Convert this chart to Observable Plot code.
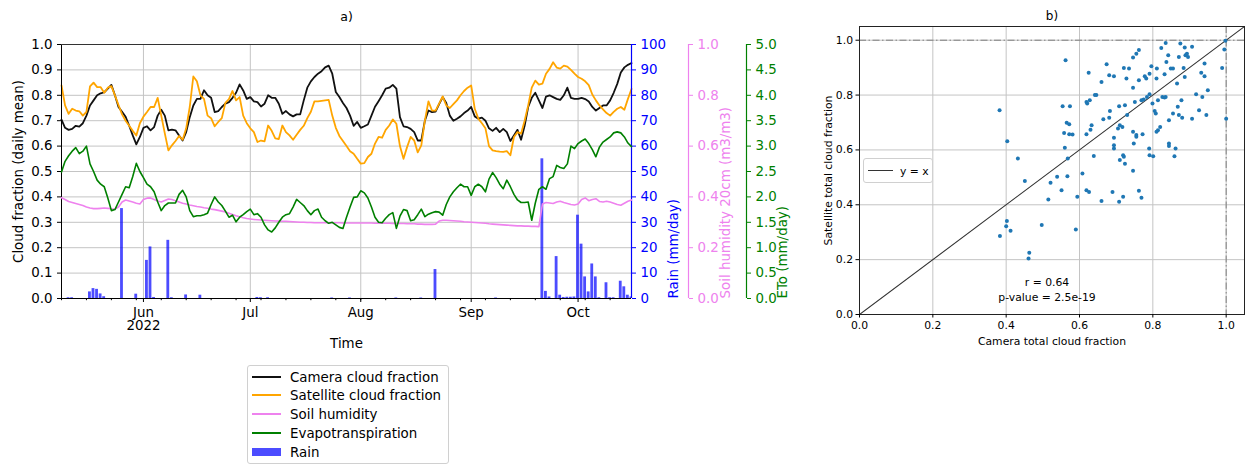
<!DOCTYPE html>
<html>
<head>
<meta charset="utf-8">
<script src="https://cdn.jsdelivr.net/npm/d3@7"></script>
<script src="https://cdn.jsdelivr.net/npm/@observablehq/plot@0.6"></script>
<style>
  html, body { margin: 0; padding: 0; background: #fff; }
  #wrap { position: relative; width: 1252px; height: 464px; overflow: hidden; font-family: "DejaVu Sans", sans-serif; }
  #wrap svg.layer { position: absolute; top: 0; overflow: visible; background: transparent; }
  .legend { position: absolute; border: 1px solid #d0d0d0; border-radius: 3px; background: rgba(255,255,255,0.8); }
  .legend .sw { position: absolute; }
  .legend .lab { position: absolute; white-space: nowrap; transform: translateY(-50%); color: #000; }
</style>
</head>
<body>
<div id="wrap"></div>
<script>
// ---------------------------------------------------------------- data
// Daily series, one value per day starting on firstDay.
const firstDay = "2022-05-09";

const cameraCloud = [
  0.704,0.672,0.664,0.668,0.680,0.677,0.690,0.720,0.760,0.780,
  0.800,0.808,0.812,0.826,0.841,0.800,0.754,0.735,0.715,0.680,
  0.642,0.607,0.636,0.672,0.678,0.662,0.675,0.720,0.743,0.720,
  0.662,0.665,0.662,0.642,0.622,0.655,0.714,0.760,0.786,0.786,
  0.820,0.800,0.790,0.734,0.738,0.754,0.767,0.773,0.790,0.810,
  0.843,0.819,0.786,0.793,0.776,0.773,0.756,0.767,0.800,0.790,
  0.790,0.767,0.727,0.738,0.725,0.717,0.725,0.725,0.780,0.830,
  0.855,0.872,0.885,0.895,0.910,0.917,0.885,0.813,0.793,0.770,
  0.750,0.720,0.680,0.695,0.672,0.678,0.685,0.720,0.755,0.777,
  0.800,0.826,0.830,0.841,0.826,0.714,0.678,0.675,0.668,0.655,
  0.622,0.622,0.700,0.740,0.734,0.736,0.765,0.793,0.770,0.720,
  0.700,0.708,0.717,0.730,0.740,0.754,0.717,0.708,0.712,0.700,
  0.670,0.660,0.672,0.655,0.668,0.655,0.620,0.642,0.664,0.625,
  0.680,0.754,0.790,0.810,0.780,0.750,0.795,0.800,0.793,0.786,
  0.782,0.800,0.830,0.790,0.786,0.786,0.790,0.785,0.776,0.754,
  0.740,0.750,0.760,0.760,0.780,0.810,0.845,0.890,0.910,0.920,
  0.927
];

const satelliteCloud = [
  0.839,0.760,0.727,0.747,0.740,0.737,0.720,0.735,0.835,0.850,
  0.832,0.832,0.810,0.830,0.836,0.800,0.762,0.725,0.700,0.680,
  0.660,0.642,0.690,0.716,0.734,0.754,0.754,0.790,0.720,0.650,
  0.583,0.603,0.620,0.640,0.625,0.670,0.754,0.874,0.855,0.800,
  0.786,0.720,0.710,0.678,0.695,0.710,0.770,0.785,0.817,0.780,
  0.793,0.720,0.690,0.670,0.655,0.616,0.622,0.619,0.681,0.660,
  0.630,0.628,0.681,0.655,0.642,0.625,0.645,0.664,0.680,0.710,
  0.735,0.776,0.776,0.778,0.780,0.782,0.720,0.672,0.640,0.620,
  0.600,0.580,0.570,0.550,0.531,0.533,0.557,0.570,0.610,0.636,
  0.633,0.664,0.681,0.705,0.688,0.600,0.550,0.596,0.636,0.622,
  0.575,0.603,0.700,0.776,0.740,0.740,0.767,0.796,0.760,0.750,
  0.765,0.780,0.800,0.817,0.830,0.839,0.747,0.708,0.690,0.670,
  0.600,0.583,0.580,0.578,0.577,0.580,0.564,0.636,0.655,0.649,
  0.700,0.760,0.830,0.858,0.842,0.846,0.885,0.904,0.930,0.909,
  0.905,0.917,0.913,0.900,0.885,0.872,0.865,0.855,0.840,0.803,
  0.780,0.760,0.745,0.730,0.720,0.735,0.747,0.754,0.743,0.786,
  0.825
];

// soil humidity at 20 cm, m3/m3
const soilHumidity = [
  0.397,0.390,0.382,0.378,0.374,0.370,0.366,0.360,0.356,0.354,
  0.354,0.355,0.356,0.355,0.353,0.352,0.360,0.380,0.388,0.384,
  0.380,0.375,0.372,0.390,0.395,0.396,0.390,0.384,0.380,0.386,
  0.392,0.390,0.385,0.380,0.375,0.372,0.368,0.365,0.362,0.360,
  0.357,0.355,0.352,0.350,0.347,0.344,0.341,0.336,0.331,0.326,
  0.322,0.318,0.315,0.313,0.311,0.310,0.309,0.308,0.307,0.306,
  0.305,0.305,0.304,0.304,0.303,0.302,0.301,0.300,0.300,0.299,
  0.299,0.298,0.298,0.298,0.298,0.298,0.298,0.298,0.298,0.297,
  0.297,0.297,0.297,0.297,0.297,0.297,0.297,0.297,0.296,0.296,
  0.296,0.296,0.296,0.295,0.295,0.295,0.295,0.294,0.294,0.294,
  0.293,0.293,0.292,0.292,0.292,0.293,0.305,0.308,0.308,0.307,
  0.306,0.305,0.304,0.302,0.301,0.300,0.299,0.298,0.297,0.296,
  0.294,0.293,0.292,0.291,0.290,0.289,0.288,0.287,0.286,0.286,
  0.285,0.285,0.284,0.284,0.283,0.372,0.378,0.376,0.374,0.380,
  0.383,0.378,0.374,0.370,0.368,0.372,0.390,0.396,0.385,0.390,
  0.393,0.382,0.380,0.383,0.380,0.375,0.370,0.367,0.375,0.383,
  0.388
];

// reference evapotranspiration ETo, mm/day
const evapotranspiration = [
  2.49,2.70,2.81,2.90,2.97,2.85,2.90,3.00,2.65,2.50,
  2.33,2.25,2.20,1.98,1.73,1.75,1.90,2.05,2.20,2.18,
  2.40,2.66,2.50,2.38,2.25,2.20,2.10,1.90,1.73,1.83,
  1.88,1.88,1.88,2.05,2.13,2.00,1.73,1.61,1.63,1.63,
  1.65,1.68,1.85,2.00,1.90,1.83,1.72,1.60,1.64,1.51,
  1.60,1.65,1.71,1.76,1.65,1.67,1.60,1.45,1.35,1.31,
  1.39,1.50,1.60,1.65,1.67,1.80,1.95,1.89,1.83,1.73,
  1.65,1.73,1.76,1.60,1.53,1.48,1.50,1.45,1.40,1.38,
  1.60,1.80,1.99,2.00,2.12,2.08,1.98,1.80,1.60,1.50,
  1.49,1.58,1.65,1.69,1.38,1.62,1.75,1.73,1.53,1.55,
  1.65,1.76,1.61,1.66,1.69,1.71,1.70,1.64,1.85,2.00,
  2.10,2.18,2.25,2.20,2.20,2.03,2.20,2.25,2.20,2.10,
  2.35,2.48,2.38,2.25,2.16,2.33,2.20,2.05,1.94,1.89,
  1.89,1.90,1.54,1.88,2.15,2.20,2.15,2.36,2.40,2.62,
  2.58,2.56,2.65,3.00,2.95,3.05,3.10,3.14,3.05,2.93,
  2.79,2.98,3.08,3.13,3.18,3.26,3.28,3.26,3.18,3.06,
  2.99
];

// daily rain, mm/day (days without rain are omitted)
const rainDates = [
  "2022-05-11","2022-05-12","2022-05-17","2022-05-18","2022-05-19","2022-05-20","2022-05-21",
  "2022-05-26","2022-05-30","2022-06-02","2022-06-03","2022-06-04","2022-06-08","2022-06-09",
  "2022-06-13","2022-06-17","2022-07-03","2022-07-04","2022-07-06","2022-07-24","2022-07-29",
  "2022-08-11","2022-08-18","2022-08-22","2022-09-08","2022-09-21","2022-09-22","2022-09-23",
  "2022-09-25","2022-09-26","2022-09-27","2022-09-28","2022-09-29","2022-09-30","2022-10-01",
  "2022-10-02","2022-10-03","2022-10-04","2022-10-05","2022-10-06","2022-10-07","2022-10-09",
  "2022-10-10","2022-10-11","2022-10-13","2022-10-14","2022-10-15","2022-10-16"
];
const rainMM = [
  0.3,0.3,2.6,3.9,3.6,1.8,0.7,
  35.4,1.7,15.0,20.3,0.4,22.9,0.3,
  1.4,1.3,0.4,0.3,0.3,0.2,0.2,
  0.2,0.2,11.4,0.2,55.0,2.8,0.6,
  16.5,1.3,0.4,0.5,0.5,0.6,32.8,
  21.4,8.5,2.6,13.6,8.5,0.3,6.2,
  0.3,0.3,6.8,4.6,1.3,0.6
];

// axis ticks
const monthTicks = ["2022-06-01","2022-07-01","2022-08-01","2022-09-01","2022-10-01"];
const monthLabels = ["Jun\n2022","Jul","Aug","Sep","Oct"];
const cloudTicks = [0,0.1,0.2,0.3,0.4,0.5,0.6,0.7,0.8,0.9,1.0];
const rainTicks = [0,10,20,30,40,50,60,70,80,90,100];
const soilTicks = [0,0.2,0.4,0.6,0.8,1.0];
const etoTicks = [0,0.5,1.0,1.5,2.0,2.5,3.0,3.5,4.0,4.5,5.0];

// paired total cloud fraction: camera (x) vs satellite (y)
const cameraTotal = [
  0.382,0.403,0.432,0.562,0.554,0.574,0.558,0.572,0.581,0.565,
  0.572,0.560,0.568,0.625,0.619,0.621,0.628,0.642,0.646,0.633,
  0.630,0.619,0.639,0.660,0.665,0.674,0.681,0.681,0.683,0.694,
  0.694,0.694,0.694,0.708,0.705,0.710,0.717,0.710,0.719,0.721,
  0.724,0.721,0.724,0.728,0.735,0.730,0.746,0.746,0.746,0.748,
  0.751,0.755,0.762,0.762,0.755,0.755,0.772,0.769,0.775,0.778,
  0.782,0.784,0.790,0.791,0.796,0.791,0.791,0.799,0.801,0.805,
  0.808,0.810,0.811,0.814,0.814,0.810,0.820,0.823,0.826,0.832,
  0.835,0.835,0.832,0.837,0.842,0.844,0.844,0.844,0.849,0.855,
  0.855,0.859,0.862,0.866,0.868,0.871,0.875,0.878,0.871,0.880,
  0.884,0.887,0.887,0.889,0.893,0.896,0.907,0.907,0.918,0.926,
  0.932,0.935,0.941,0.941,0.946,0.950,0.989,0.995,0.998,1.000,
  0.383,0.402,0.400,0.412,0.451,0.461,0.463,0.497,0.515,0.521,
  0.539,0.551,0.567,0.590,0.594,0.608,0.619,0.626,0.660,0.690,
  0.708,0.719,0.746,0.762,0.769
];
const satelliteTotal = [
  0.745,0.632,0.569,0.927,0.759,0.759,0.662,0.657,0.656,0.699,
  0.694,0.608,0.569,0.881,0.775,0.769,0.781,0.800,0.800,0.690,
  0.674,0.657,0.578,0.848,0.712,0.912,0.872,0.717,0.742,0.869,
  0.644,0.617,0.605,0.759,0.678,0.690,0.684,0.563,0.581,0.575,
  0.550,0.899,0.763,0.860,0.897,0.727,0.937,0.827,0.666,0.623,
  0.775,0.951,0.964,0.854,0.654,0.648,0.657,0.781,0.784,0.869,
  0.860,0.793,0.605,0.581,0.905,0.878,0.803,0.769,0.577,0.742,
  0.733,0.860,0.897,0.781,0.672,0.666,0.684,0.972,0.793,0.791,
  0.793,0.990,0.876,0.921,0.945,0.623,0.614,0.708,0.897,0.897,
  0.733,0.577,0.605,0.842,0.757,0.727,0.988,0.781,0.939,0.717,
  0.899,0.973,0.866,0.945,0.951,0.939,0.976,0.714,0.803,0.745,
  0.881,0.793,0.869,0.915,0.727,0.818,0.899,0.966,0.998,0.714,
  0.286,0.341,0.322,0.305,0.487,0.204,0.225,0.326,0.419,0.480,
  0.502,0.453,0.504,0.310,0.429,0.514,0.453,0.447,0.414,0.447,
  0.411,0.429,0.524,0.451,0.426
];
const scatterTicks = [0,0.2,0.4,0.6,0.8,1.0];
const corrR = "0.64";
const pValue = "2.5e-19";

// ---------------------------------------------------------------- setup
const FONT = "'DejaVu Sans', sans-serif";
const C = {
  camera: "#111111", satellite: "#ffa500", soil: "#ee82ee", eto: "#008000",
  rain: "#0000ff", grid: "#c4c4c4", dots: "#1f77b4"
};
const wrap = document.getElementById("wrap");

const start = new Date(firstDay);
const days = cameraCloud.map((_, i) => d3.utcDay.offset(start, i));
const daily = days.map((date, i) => ({
  date,
  camera: cameraCloud[i],
  satellite: satelliteCloud[i],
  soil: soilHumidity[i],
  eto: evapotranspiration[i]
}));
const rain = rainDates.map((s, i) => ({date: new Date(s), mm: rainMM[i]}));
const months = monthTicks.map(s => new Date(s));
const xDomain = [days[0], days[days.length - 1]];
const weeks = d3.utcMonday.range(xDomain[0], d3.utcDay.offset(xDomain[1], 1));

const box = {width: 800, height: 352, marginTop: 44, marginBottom: 54, marginLeft: 61, marginRight: 169};

function addLayer(svg, left) {
  svg.classList.add("layer");
  svg.style.left = left + "px";
  wrap.append(svg);
}
const baseStyle = size => ({fontFamily: FONT, fontSize: size, background: "transparent", color: "#000", overflow: "visible"});

// ---------------------------------------------------------------- a) time series
// base axes: cloud fraction lines, grid, spines and the left/bottom axes
addLayer(Plot.plot({
  ...box,
  style: baseStyle("13.4px"),
  x: {type: "utc", domain: xDomain},
  y: {domain: [0, 1]},
  marks: [
    Plot.gridX(months, {stroke: C.grid, strokeOpacity: 1, strokeWidth: 1}),
    Plot.gridY(cloudTicks, {stroke: C.grid, strokeOpacity: 1, strokeWidth: 1}),
    Plot.lineY(daily, {x: "date", y: "camera", stroke: C.camera, strokeWidth: 1.8}),
    Plot.lineY(daily, {x: "date", y: "satellite", stroke: C.satellite, strokeWidth: 1.8}),
    Plot.ruleX([xDomain[0]], {stroke: "#000", strokeWidth: 1}),
    Plot.ruleY([0], {stroke: "#000", strokeWidth: 1}),
    Plot.ruleY([1], {stroke: "#333", strokeWidth: 1.2}),
    Plot.axisY(cloudTicks, {anchor: "left", tickSize: 4, tickPadding: 5, tickFormat: d => d.toFixed(1), label: null}),
    Plot.axisX(weeks, {anchor: "bottom", tickSize: 2.2, tickFormat: () => "", label: null}),
    Plot.axisX(months, {
      anchor: "bottom", tickSize: 4, tickPadding: 5, lineHeight: 1.0, label: null,
      tickFormat: d => monthLabels[months.findIndex(m => +m === +d)]
    }),
    Plot.text(["Cloud fraction (daily mean)"], {text: d => d, frameAnchor: "left", dx: -43, rotate: -90, textAnchor: "middle", lineAnchor: "middle"}),
    Plot.text(["Time"], {text: d => d, frameAnchor: "bottom", dy: 45, textAnchor: "middle", lineAnchor: "middle"}),
    Plot.text(["a)"], {text: d => d, frameAnchor: "top", dy: -28, textAnchor: "middle", lineAnchor: "middle", fontSize: 12.5})
  ]
}), 0);

// rain bars on their own mm/day scale, axis on the right spine
addLayer(Plot.plot({
  ...box,
  style: baseStyle("13.4px"),
  x: {type: "utc", domain: xDomain, axis: null},
  y: {domain: [0, 100]},
  marks: [
    Plot.rectY(rain, {
      x1: d => d3.utcHour.offset(d.date, -9.6),
      x2: d => d3.utcHour.offset(d.date, 9.6),
      y: "mm", fill: C.rain, fillOpacity: 0.7, clip: true
    }),
    Plot.ruleX([xDomain[1]], {stroke: C.rain, strokeWidth: 1.2}),
    Plot.axisY(rainTicks, {anchor: "right", tickSize: 4, tickPadding: 5, color: C.rain, label: null}),
    Plot.text(["Rain (mm/day)"], {text: d => d, frameAnchor: "bottom-right", dx: 42, rotate: -90, textAnchor: "start", lineAnchor: "middle", fill: C.rain})
  ]
}), 0);

// soil humidity line
addLayer(Plot.plot({
  ...box,
  style: baseStyle("13.4px"),
  x: {type: "utc", domain: xDomain, axis: null},
  y: {domain: [0, 1], axis: null},
  marks: [
    Plot.lineY(daily, {x: "date", y: "soil", stroke: C.soil, strokeWidth: 1.6})
  ]
}), 0);

// soil humidity axis, offset to the right of the rain axis
addLayer(Plot.plot({
  ...box, marginRight: 112,
  style: baseStyle("13.4px"),
  x: {domain: [0, 1], axis: null},
  y: {domain: [0, 1]},
  marks: [
    Plot.ruleX([1], {stroke: C.soil, strokeWidth: 1.2}),
    Plot.axisY(soilTicks, {anchor: "right", tickSize: 4, tickPadding: 5, color: C.soil, tickFormat: d => d.toFixed(1), label: null}),
    Plot.text(["Soil humidity 20cm (m3/m3)"], {text: d => d, frameAnchor: "bottom-right", dx: 37, rotate: -90, textAnchor: "start", lineAnchor: "middle", fill: C.soil})
  ]
}), 0);

// evapotranspiration line
addLayer(Plot.plot({
  ...box,
  style: baseStyle("13.4px"),
  x: {type: "utc", domain: xDomain, axis: null},
  y: {domain: [0, 5], axis: null},
  marks: [
    Plot.lineY(daily, {x: "date", y: "eto", stroke: C.eto, strokeWidth: 1.6})
  ]
}), 0);

// evapotranspiration axis, outermost
addLayer(Plot.plot({
  ...box, marginRight: 54,
  style: baseStyle("13.4px"),
  x: {domain: [0, 1], axis: null},
  y: {domain: [0, 5]},
  marks: [
    Plot.ruleX([1], {stroke: C.eto, strokeWidth: 1.2}),
    Plot.axisY(etoTicks, {anchor: "right", tickSize: 4, tickPadding: 5, color: C.eto, tickFormat: d => d.toFixed(1), label: null}),
    Plot.text(["ETo (mm/day)"], {text: d => d, frameAnchor: "bottom-right", dx: 36, rotate: -90, textAnchor: "start", lineAnchor: "middle", fill: C.eto})
  ]
}), 0);

// legend of panel a)
const legendA = document.createElement("div");
legendA.className = "legend";
Object.assign(legendA.style, {left: "247px", top: "365px", width: "200px", height: "97px", fontSize: "13.4px"});
const entries = [
  {label: "Camera cloud fraction", color: C.camera, kind: "line"},
  {label: "Satellite cloud fraction", color: C.satellite, kind: "line"},
  {label: "Soil humidity", color: C.soil, kind: "line"},
  {label: "Evapotranspiration", color: C.eto, kind: "line"},
  {label: "Rain", color: C.rain, kind: "bar"}
];
entries.forEach((e, i) => {
  const cy = 10.5 + i * 18.9;
  const sw = document.createElement("div");
  sw.className = "sw";
  if (e.kind === "line") {
    Object.assign(sw.style, {left: "4px", width: "29px", top: (cy - 1) + "px", height: "2px", background: e.color});
  } else {
    Object.assign(sw.style, {left: "4px", width: "29px", top: (cy - 4) + "px", height: "8px", background: e.color, opacity: 0.7});
  }
  const lab = document.createElement("div");
  lab.className = "lab";
  lab.textContent = e.label;
  Object.assign(lab.style, {left: "42px", top: cy + "px"});
  legendA.append(sw, lab);
});
wrap.append(legendA);

// ---------------------------------------------------------------- b) scatter
const pairs = cameraTotal.map((x, i) => ({camera: x, satellite: satelliteTotal[i]}));
const diag = [0, 1.05];
addLayer(Plot.plot({
  width: 452, height: 352, marginTop: 26, marginBottom: 38, marginLeft: 59, marginRight: 8,
  style: baseStyle("10.8px"),
  x: {domain: [0, 1.05]},
  y: {domain: [0, 1.05]},
  marks: [
    Plot.gridX(scatterTicks, {stroke: C.grid, strokeOpacity: 1, strokeWidth: 1}),
    Plot.gridY(scatterTicks, {stroke: C.grid, strokeOpacity: 1, strokeWidth: 1}),
    Plot.ruleX([1], {stroke: "#7f7f7f", strokeWidth: 1, strokeDasharray: "7,2.5,1.5,2.5"}),
    Plot.ruleY([1], {stroke: "#7f7f7f", strokeWidth: 1, strokeDasharray: "7,2.5,1.5,2.5"}),
    Plot.line(diag, {x: d => d, y: d => d, stroke: "#333", strokeWidth: 1.1, clip: true}),
    Plot.dot(pairs, {x: "camera", y: "satellite", r: 2, fill: C.dots, stroke: "none"}),
    Plot.frame({stroke: "#222", strokeWidth: 1}),
    Plot.axisX(scatterTicks, {anchor: "bottom", tickSize: 3.5, tickPadding: 3, tickFormat: d => d.toFixed(1), label: null}),
    Plot.axisY(scatterTicks, {anchor: "left", tickSize: 3.5, tickPadding: 3, tickFormat: d => d.toFixed(1), label: null}),
    Plot.text(["Camera total cloud fraction"], {text: d => d, frameAnchor: "bottom", dy: 27.5, textAnchor: "middle", lineAnchor: "middle"}),
    Plot.text(["Satellite total cloud fraction"], {text: d => d, frameAnchor: "left", dx: -31, rotate: -90, textAnchor: "middle", lineAnchor: "middle"}),
    Plot.text([`r = ${corrR}\np-value = ${pValue}`], {text: d => d, frameAnchor: "bottom", dx: -5, dy: -25.5, textAnchor: "middle", lineAnchor: "middle", lineHeight: 1.3}),
    Plot.text(["b)"], {text: d => d, frameAnchor: "top", dy: -10, textAnchor: "middle", lineAnchor: "middle", fontSize: 12})
  ]
}), 800);

// legend of panel b)
const legendB = document.createElement("div");
legendB.className = "legend";
Object.assign(legendB.style, {left: "863px", top: "158px", width: "68px", height: "23px", fontSize: "10.8px"});
const swB = document.createElement("div");
swB.className = "sw";
Object.assign(swB.style, {left: "4px", width: "25px", top: "11px", height: "1.2px", background: "#333"});
const labB = document.createElement("div");
labB.className = "lab";
labB.textContent = "y = x";
Object.assign(labB.style, {left: "36px", top: "12px"});
legendB.append(swB, labB);
wrap.append(legendB);
</script>
</body>
</html>
